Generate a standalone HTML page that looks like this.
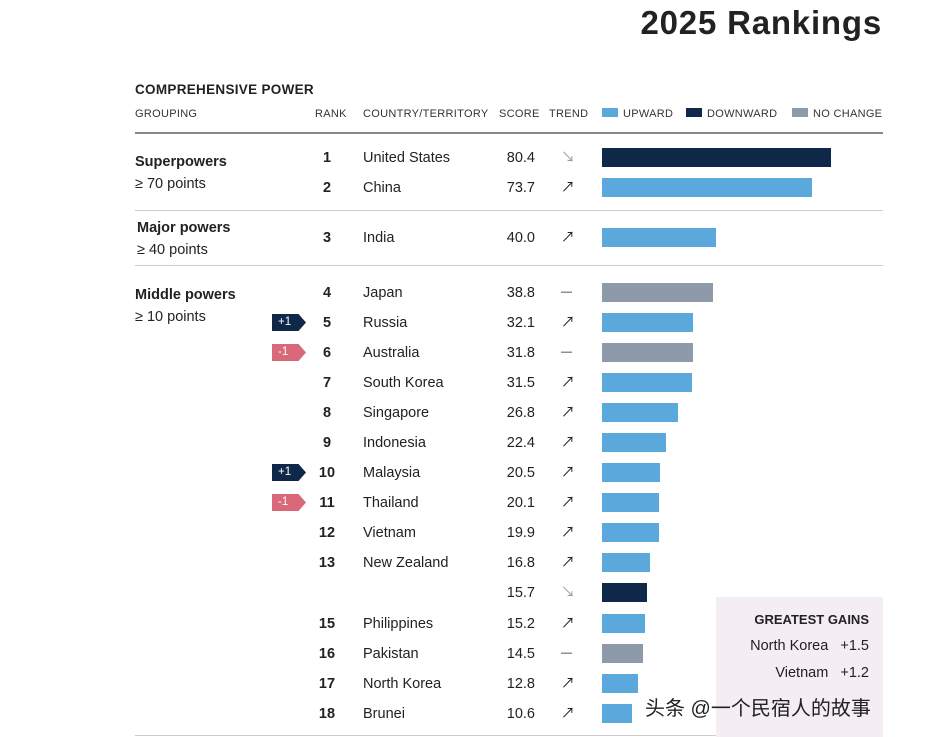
<!DOCTYPE html>
<html><head><meta charset="utf-8"><style>
body{margin:0;width:932px;height:737px;background:#fff;font-family:"Liberation Sans","Noto Sans CJK SC",sans-serif;color:#222;position:relative;overflow:hidden}
.a{position:absolute;white-space:nowrap}
.h{font-size:11px;letter-spacing:.3px;color:#333}
.t{font-size:14.5px}
</style></head><body>
<div class="a" style="right:50px;top:4px;font-size:33px;letter-spacing:0.8px;font-weight:bold;color:#222">2025 Rankings</div>
<div class="a" style="left:135px;top:82px;font-size:13.5px;font-weight:bold;letter-spacing:.3px">COMPREHENSIVE POWER</div>
<div class="a h" style="left:135px;top:108px">GROUPING</div>
<div class="a h" style="left:315px;top:108px">RANK</div>
<div class="a h" style="left:363px;top:108px">COUNTRY/TERRITORY</div>
<div class="a h" style="left:499px;top:108px">SCORE</div>
<div class="a h" style="left:549px;top:108px">TREND</div>
<div class="a h" style="left:602px;top:108px"><span style="display:inline-block;width:16px;height:9px;background:#5ba8dc;margin-right:5px"></span>UPWARD</div>
<div class="a h" style="left:686px;top:108px"><span style="display:inline-block;width:16px;height:9px;background:#0f2748;margin-right:5px"></span>DOWNWARD</div>
<div class="a h" style="left:792px;top:108px"><span style="display:inline-block;width:16px;height:9px;background:#8e9aaa;margin-right:5px"></span>NO CHANGE</div>
<div class="a" style="left:135px;top:132px;width:748px;height:2px;background:#888"></div>
<div class="a" style="left:135px;top:210px;width:748px;height:1px;background:#ccc"></div>
<div class="a" style="left:135px;top:265px;width:748px;height:1px;background:#ccc"></div>
<div class="a" style="left:135px;top:735px;width:748px;height:1px;background:#ccc"></div>
<div class="a" style="left:135px;top:151px;font-size:14.5px;line-height:22px"><b>Superpowers</b><br>≥ 70 points</div>
<div class="a" style="left:137px;top:217px;font-size:14.5px;line-height:22px"><b>Major powers</b><br>≥ 40 points</div>
<div class="a" style="left:135px;top:284px;font-size:14.5px;line-height:22px"><b>Middle powers</b><br>≥ 10 points</div>
<div class="a" style="left:716px;top:597px;width:167px;height:140px;background:#f4edf4">
<div class="a" style="right:14px;top:15px;font-size:13px;font-weight:bold">GREATEST GAINS</div>
<div class="a t" style="right:14px;top:41px">North Korea&nbsp;&nbsp;&nbsp;+1.5</div>
<div class="a t" style="right:14px;top:68px">Vietnam&nbsp;&nbsp;&nbsp;+1.2</div>
</div>
<div id="rows"></div>
<div class="a" style="left:645px;top:692px;font-size:20px;color:#222">头条 @一个民宿人的故事</div>
<script>
const ranks=["1","2","3","4","5","6","7","8","9","10","11","12","13","","15","16","17","18"];
const countries=["United States","China","India","Japan","Russia","Australia","South Korea","Singapore","Indonesia","Malaysia","Thailand","Vietnam","New Zealand","","Philippines","Pakistan","North Korea","Brunei"];
const scores=[80.4,73.7,40.0,38.8,32.1,31.8,31.5,26.8,22.4,20.5,20.1,19.9,16.8,15.7,15.2,14.5,12.8,10.6];
const trends=["down","up","up","same","up","same","up","up","up","up","up","up","up","down","up","same","up","up"];
const changes=["","","","","+1","-1","","","","+1","-1","","","","","","",""];
const rowY=[157,187,237,292,322,352,382,412,442,472,502,532,562,592,623,653,683,713];
const x0=602,pxPer=2.85;
const col={up:"#5ba8dc",down:"#0f2748",same:"#8e9aaa"};
const glyph={up:"↗",down:"↘",same:"—"};
const root=document.getElementById('rows');
function add(html,name,style){const d=document.createElement('div');d.className='a';d.style.cssText=style;d.innerHTML=html;


root.appendChild(d);return d;}
scores.forEach((s,i)=>{const y=rowY[i];
add(ranks[i],'rank-'+(i+1),`left:318px;top:${y-7}px;width:18px;text-align:center;font-size:14.5px;font-weight:bold`);
add(countries[i],'country-'+(i+1),`left:363px;top:${y-7}px;font-size:14.5px`);
add(s.toFixed(1),'score-'+(i+1),`left:492px;top:${y-7}px;width:43px;text-align:right;font-size:14.5px`);
add(glyph[trends[i]],'trend-'+(i+1),`left:561px;top:${y-10}px;font-size:${trends[i]=='same'?11:14}px;color:${trends[i]=='down'?'#999':'#222'};line-height:20px`);
add('','bar-'+(i+1),`left:${x0}px;top:${y-9}px;width:${s*pxPer}px;height:19px;background:${col[trends[i]]}`);
if(changes[i]){const neg=changes[i][0]=='-';
add(changes[i],'rank-change-'+(i+1),`left:272px;top:${y-8}px;width:34px;height:17px;line-height:17px;padding-left:6px;box-sizing:border-box;font-size:11.5px;color:#fff;background:${neg?'#d9687a':'#0f2748'};clip-path:polygon(0 0,78% 0,100% 50%,78% 100%,0 100%)`);}
});
</script>
</body></html>
